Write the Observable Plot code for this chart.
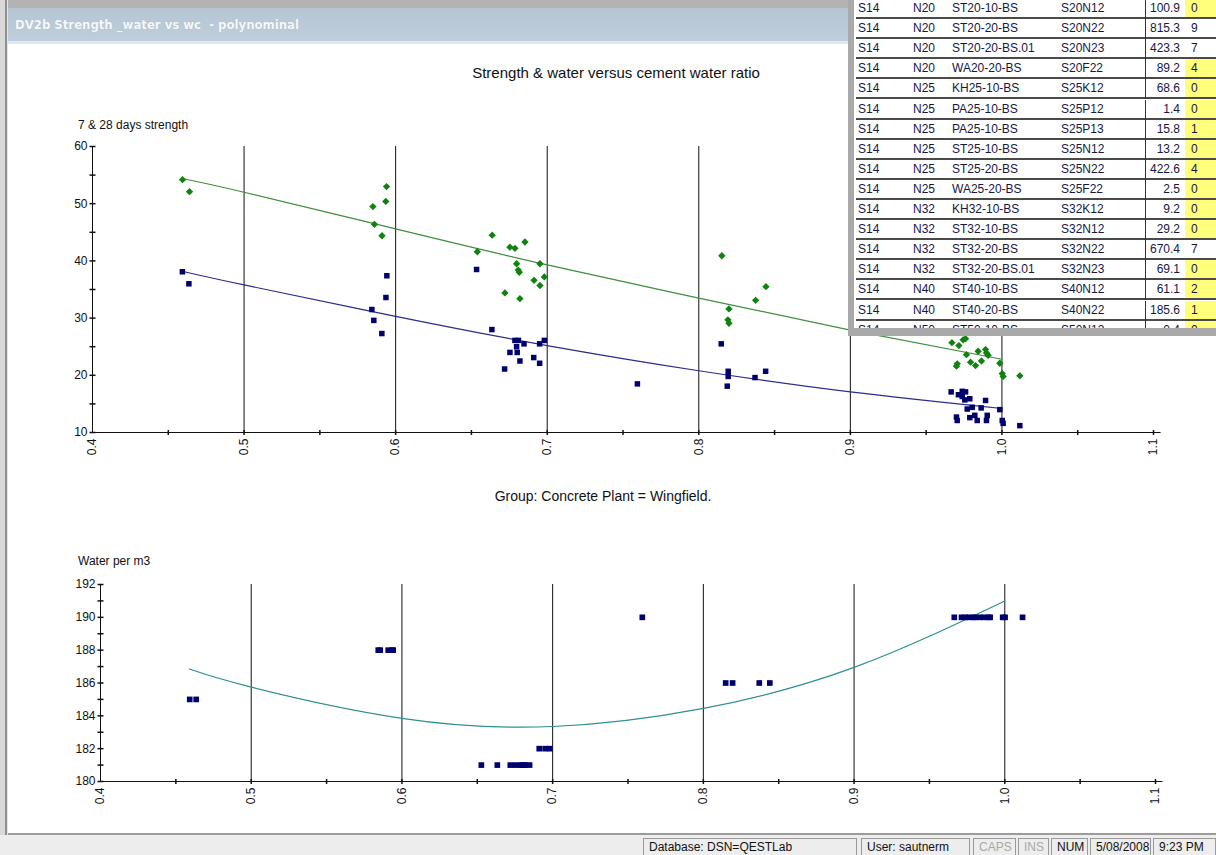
<!DOCTYPE html>
<html><head><meta charset="utf-8">
<script src="https://cdn.jsdelivr.net/npm/d3@7"></script>
<script src="https://cdn.jsdelivr.net/npm/@observablehq/plot@0.6"></script>
<style>
html,body{margin:0;padding:0;}
body{width:1216px;height:855px;overflow:hidden;background:#fff;font-family:"Liberation Sans",Arial,sans-serif;position:relative;}
.abs{position:absolute;}
#topstrip{left:0;top:0;width:1216px;height:8px;background:#b3b3b3;border-bottom:1px solid #d6d6d6;}
#leftframe{left:0;top:0;width:8px;height:836px;background:linear-gradient(to right,#d9d9d9 0 5px,#8f8f8f 5px 7px,#e6e6e6 7px 8px);}
#titlebar{left:8px;top:8px;width:1208px;height:33px;background:linear-gradient(#b5c5d4,#c0cedb);border-bottom:3px solid #dfe7ee;}
#titletext{left:15px;top:17px;font-family:"DejaVu Sans Condensed","Liberation Sans",sans-serif;font-weight:bold;font-size:13px;color:#f5f8fb;white-space:pre;text-shadow:0 0 1px #9fb0c0;}
#chartTitle{left:0;width:1232px;top:64px;text-align:center;font-size:15px;color:#111;}
#ylab1{left:78px;top:118px;font-size:12px;color:#111;}
#groupText{left:0;width:1206px;top:488px;text-align:center;font-size:14px;color:#111;}
#ylab2{left:78px;top:554px;font-size:12px;color:#111;}
#clientBottom{left:8px;top:833px;width:1208px;height:2px;background:#9c9c9c;}
#status{left:0;top:835px;width:1216px;height:20px;background:#ededed;}
.panel{position:absolute;top:838px;height:17px;border:1px solid #9a9a9a;border-bottom:none;font-size:12px;line-height:17px;padding-left:5px;box-sizing:border-box;color:#111;white-space:nowrap;overflow:hidden;}
#tbl{left:848px;top:0;width:368px;height:336px;background:#fff;overflow:hidden;z-index:5;}
.row{position:absolute;left:8px;width:360px;height:20px;border-bottom:2px solid #4a4a4a;box-sizing:border-box;font-size:12px;color:#17173f;}
.cell{position:absolute;top:0;height:18px;line-height:18px;white-space:nowrap;}
svg{position:absolute;left:0;}
</style></head>
<body>
<script>
// ---------- data ----------
// 7-day strength (blue squares)
const wc7  = [0.4593,0.4636,0.5843,0.5856,0.5909,0.5936,0.5942,0.6534,0.6635,0.6719,0.6754,0.6787,0.6810,0.6798,0.6802,0.6820,0.6847,0.6911,0.6950,0.6950,0.6981,0.7595,0.8148,0.8194,0.8194,0.8188,0.8371,0.8441,
              0.9665,0.9713,0.9738,0.9760,0.9738,0.9755,0.9788,0.9771,0.9804,0.9700,0.9705,0.9788,0.9821,0.9837,0.9863,0.9892,0.9903,0.9898,0.9986,1.0002,1.0008,1.0118];
const str7 = [38.1,36.0,31.5,29.6,27.3,33.6,37.4,38.5,28.0,21.1,24.0,26.1,26.1,25.0,24.0,22.5,25.5,23.1,22.1,25.5,26.1,18.5,25.5,20.7,19.8,18.1,19.6,20.7,
              17.1,16.6,17.2,17.1,16.3,15.7,15.9,14.1,14.4,12.7,12.1,12.6,13.0,12.1,14.3,15.6,13.0,12.1,14.0,12.1,11.6,11.2];
// 28-day strength (green diamonds)
const wc28  = [0.4594,0.4640,0.5850,0.5860,0.5910,0.5935,0.5940,0.6539,0.6637,0.6721,0.6754,0.6787,0.6798,0.6809,0.6816,0.6820,0.6853,0.6913,0.6952,0.6952,0.6981,0.8152,0.8192,0.8199,0.8199,0.8375,0.8443,
               0.9670,0.9716,0.9744,0.9760,0.9705,0.9700,0.9766,0.9793,0.9826,0.9843,0.9865,0.9892,0.9909,0.9898,0.9986,1.0002,1.0008,1.0118];
const str28 = [54.2,52.1,49.5,46.4,44.4,50.4,53.0,41.6,44.5,34.4,42.4,42.2,39.5,38.4,38.0,33.4,43.3,36.6,39.5,35.7,37.2,40.9,29.7,31.6,29.1,33.1,35.5,
               25.7,25.2,26.2,26.4,22.0,21.6,23.6,22.3,21.7,24.2,22.5,24.5,23.5,23.9,22.1,20.3,19.8,19.9];
// polynomial trend lines
const fitX   = [0.459,0.5,0.6,0.7,0.8,0.9,1.0];
const fit7   = [38.2,35.8,30.3,25.2,20.8,17.1,14.2];
const fit28  = [54.4,52.0,45.6,39.3,33.5,27.9,22.8];
// water per m3
const wcW   = [0.4592,0.4635,0.5843,0.5856,0.5909,0.5936,0.5942,0.6527,0.6633,0.6719,0.6754,0.6787,0.6798,0.6810,0.6820,0.6847,0.6911,0.6950,0.6981,0.7595,0.8148,0.8194,0.8371,0.8441,
               0.9665,0.9713,0.9738,0.9760,0.9788,0.9804,0.9837,0.9863,0.9892,0.9903,0.9986,1.0002,1.0118];
const water = [185,185,188,188,188,188,188,181,181,181,181,181,181,181,181,181,182,182,182,190,186,186,186,186,
               190,190,190,190,190,190,190,190,190,190,190,190,190];
const waterFitX = [0.459,0.5,0.6,0.7,0.8,0.9,1.0];
const waterFit  = [186.85,185.75,183.85,183.35,184.45,186.95,191.0];
// axis ticks
const xLabels = [0.4,0.5,0.6,0.7,0.8,0.9,1.0,1.1];
const xGrid   = [0.5,0.6,0.7,0.8,0.9,1.0];
const xMinor  = [0.45,0.5,0.55,0.6,0.65,0.7,0.75,0.8,0.85,0.9,0.95,1.0,1.05,1.1];
const yLabels1 = [10,20,30,40,50,60];
const yMinor1  = [10,15,20,25,30,35,40,45,50,55,60];
const yLabels2 = [180,182,184,186,188,190,192];
const yMinor2  = [180,181,182,183,184,185,186,187,188,189,190,191,192];
// overlapping table
const rowSite  = ["S14","S14","S14","S14","S14","S14","S14","S14","S14","S14","S14","S14","S14","S14","S14","S14","S14"];
const rowGrade = ["N20","N20","N20","N20","N25","N25","N25","N25","N25","N25","N32","N32","N32","N32","N40","N40","N50"];
const rowMix   = ["ST20-10-BS","ST20-20-BS","ST20-20-BS.01","WA20-20-BS","KH25-10-BS","PA25-10-BS","PA25-10-BS","ST25-10-BS","ST25-20-BS","WA25-20-BS","KH32-10-BS","ST32-10-BS","ST32-20-BS","ST32-20-BS.01","ST40-10-BS","ST40-20-BS","ST50-10-BS"];
const rowCode  = ["S20N12","S20N22","S20N23","S20F22","S25K12","S25P12","S25P13","S25N12","S25N22","S25F22","S32K12","S32N12","S32N22","S32N23","S40N12","S40N22","S50N12"];
const rowQty   = ["100.9","815.3","423.3","89.2","68.6","1.4","15.8","13.2","422.6","2.5","9.2","29.2","670.4","69.1","61.1","185.6","0.4"];
const rowLast  = ["0","9","7","4","0","0","1","0","4","0","0","0","7","0","2","1","0"];
const rowFlag  = [true,false,false,true,true,true,true,true,true,true,true,true,false,true,true,true,true];
// status bar
const statusTexts = ["Database: DSN=QESTLab","User: sautnerm","CAPS","INS","NUM","5/08/2008","9:23 PM"];

// ---------- static text ----------
function addDiv(id, text, cls){const d=document.createElement("div");d.id=id;d.className="abs "+(cls||"");d.textContent=text;document.body.appendChild(d);return d;}
addDiv("topstrip","");
addDiv("leftframe","");
addDiv("titlebar","");
addDiv("titletext","DV2b Strength _water vs wc  - polynominal");
addDiv("chartTitle","Strength & water versus cement water ratio");
addDiv("ylab1","7 & 28 days strength");
addDiv("groupText","Group: Concrete Plant = Wingfield.");
addDiv("ylab2","Water per m3");
addDiv("clientBottom","");
addDiv("status","");
const panelPos = [[643,214],[861,109],[973,43],[1018,31],[1051,37],[1090,61],[1153,63]];
statusTexts.forEach((t,i)=>{const p=document.createElement("div");p.className="panel";p.style.left=panelPos[i][0]+"px";p.style.width=panelPos[i][1]+"px";p.textContent=t;if(i===2||i===3)p.style.color="#a8a8a8";document.body.appendChild(p);});

// ---------- charts ----------
const hline = {draw(ctx,size){const r=Math.sqrt(size/Math.PI);ctx.moveTo(-r,0);ctx.lineTo(r,0);}};
const vline = {draw(ctx,size){const r=Math.sqrt(size/Math.PI);ctx.moveTo(0,-r);ctx.lineTo(0,r);}};
const fmt1 = d3.format(".1f");
const baseStyle = {fontFamily:"Liberation Sans, Arial, sans-serif",fontSize:"12px",color:"#111",background:"transparent",overflow:"visible"};

const s7 = wc7.map((x,i)=>({x,y:str7[i]}));
const s28 = wc28.map((x,i)=>({x,y:str28[i]}));
const f7 = fitX.map((x,i)=>({x,y:fit7[i]}));
const f28 = fitX.map((x,i)=>({x,y:fit28[i]}));
const wpts = wcW.map((x,i)=>({x,y:water[i]}));
const wfit = waterFitX.map((x,i)=>({x,y:waterFit[i]}));

const topChart = Plot.plot({
  width:1216,height:370,marginLeft:92,marginRight:63,marginTop:46,marginBottom:38,
  style:baseStyle,
  x:{domain:[0.4,1.1],label:null},
  y:{domain:[10,60],label:null},
  marks:[
    Plot.ruleX(xGrid,{stroke:"#111",strokeWidth:1}),
    Plot.ruleX([0.4],{stroke:"#111"}),
    Plot.ruleY([10],{x1:0.4,x2:1.105,stroke:"#111"}),
    Plot.dot(yMinor1,{x:()=>0.4,y:d=>d,symbol:hline,r:3,stroke:"#111"}),
    Plot.dot(xMinor,{x:d=>d,y:()=>10,symbol:vline,r:2.5,stroke:"#111"}),
    Plot.axisY({ticks:yLabels1,tickSize:0,tickPadding:5,label:null}),
    Plot.axisX({ticks:xLabels,tickFormat:fmt1,tickRotate:-90,tickSize:0,tickPadding:6,label:null}),
    Plot.line(f28,{x:"x",y:"y",stroke:"#3f8f3f",strokeWidth:1.2,curve:"natural"}),
    Plot.line(f7,{x:"x",y:"y",stroke:"#2c2c8c",strokeWidth:1.2,curve:"natural"}),
    Plot.dot(s28,{x:"x",y:"y",symbol:"diamond2",r:3.3,fill:"#0f820f"}),
    Plot.dot(s7,{x:"x",y:"y",symbol:"square",r:3.1,fill:"#00006e"})
  ]
});
topChart.style.top="100px";
document.body.appendChild(topChart);

const botChart = Plot.plot({
  width:1216,height:290,marginLeft:100,marginRight:61,marginTop:44,marginBottom:49,
  style:baseStyle,
  x:{domain:[0.4,1.1],label:null},
  y:{domain:[180,192],label:null},
  marks:[
    Plot.ruleX(xGrid,{stroke:"#111",strokeWidth:1}),
    Plot.ruleX([0.4],{stroke:"#111"}),
    Plot.ruleY([180],{x1:0.4,x2:1.105,stroke:"#111"}),
    Plot.dot(yMinor2,{x:()=>0.4,y:d=>d,symbol:hline,r:3,stroke:"#111"}),
    Plot.dot(xMinor,{x:d=>d,y:()=>180,symbol:vline,r:2.5,stroke:"#111"}),
    Plot.axisY({ticks:yLabels2,tickSize:0,tickPadding:5,label:null}),
    Plot.axisX({ticks:xLabels,tickFormat:fmt1,tickRotate:-90,tickSize:0,tickPadding:6,label:null}),
    Plot.line(wfit,{x:"x",y:"y",stroke:"#2f8f8f",strokeWidth:1.2,curve:"natural"}),
    Plot.dot(wpts,{x:"x",y:"y",symbol:"square",r:3.2,fill:"#00006e"})
  ]
});
botChart.style.top="540px";
document.body.appendChild(botChart);

// ---------- overlapping table window ----------
const tbl = document.createElement("div");tbl.id="tbl";tbl.className="abs";
const lb = document.createElement("div");lb.style.cssText="position:absolute;left:0;top:0;width:6px;height:336px;background:#a9a9a9;z-index:2";tbl.appendChild(lb);
rowSite.forEach((s,i)=>{
  const r=document.createElement("div");r.className="row";r.style.top=(i*20.1-1)+"px";
  const mk=(left,text,css)=>{const c=document.createElement("div");c.className="cell";c.style.left=left+"px";c.textContent=text;if(css)c.style.cssText+=css;r.appendChild(c);};
  mk(2,s);mk(57,rowGrade[i]);mk(96,rowMix[i]);mk(205,rowCode[i]);
  mk(289,rowQty[i],"width:37px;text-align:right;border-left:1.5px solid #333;height:20px;box-sizing:border-box;padding-right:2px;");
  mk(329,rowLast[i],"width:31px;height:18px;padding-left:6px;box-sizing:border-box;background:"+(rowFlag[i]?"#ffff7c":"#fff")+";");
  tbl.appendChild(r);
});
const bb = document.createElement("div");bb.style.cssText="position:absolute;left:0;top:328px;width:368px;height:8px;background:#a9a9a9;z-index:2";tbl.appendChild(bb);
document.body.appendChild(tbl);
</script>
</body></html>
